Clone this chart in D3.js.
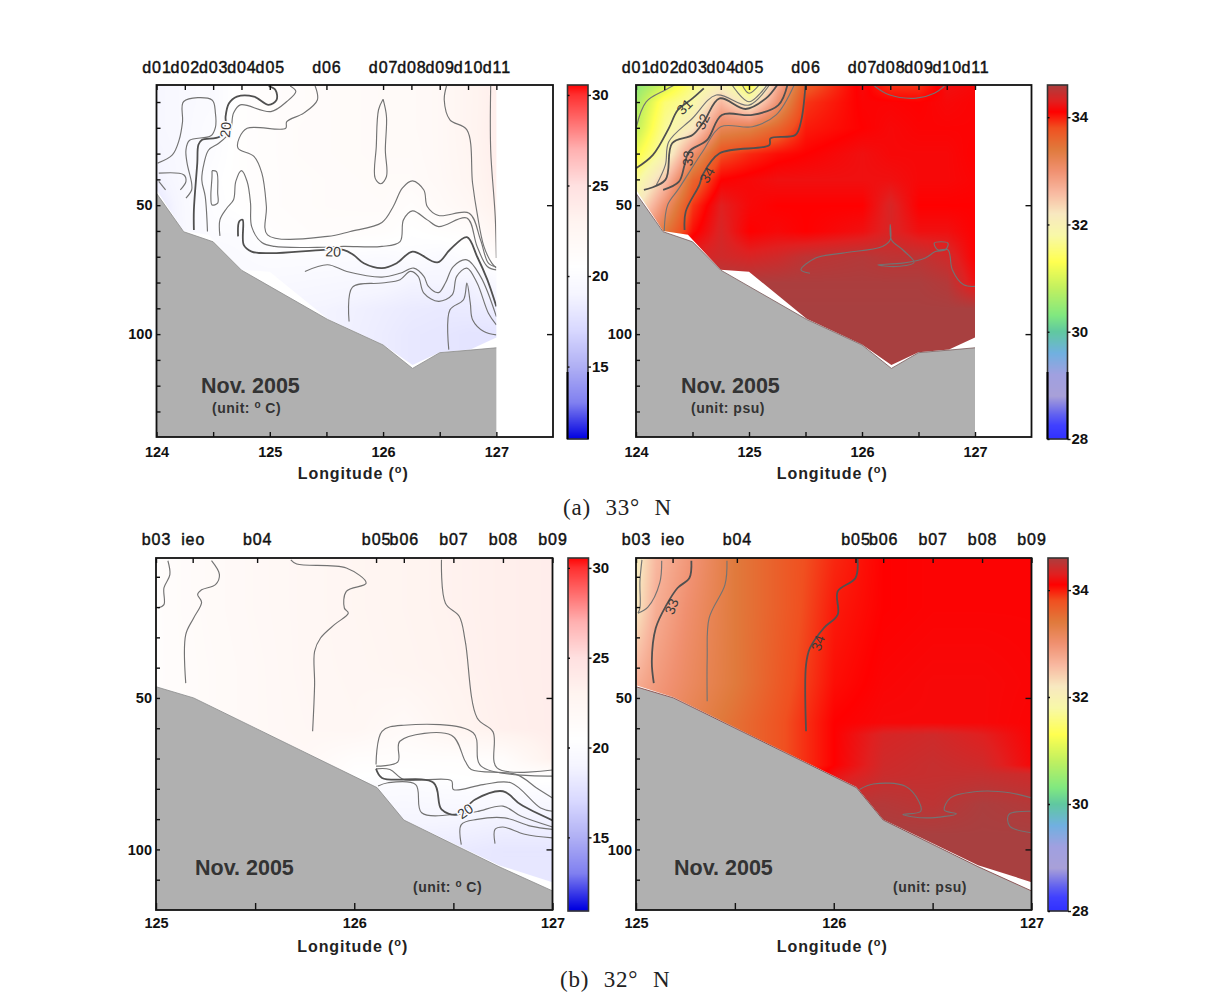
<!DOCTYPE html>
<html><head><meta charset="utf-8">
<script src="https://cdn.jsdelivr.net/npm/d3@7/dist/d3.min.js"></script>
<style>html,body{margin:0;background:#fff}svg{display:block}</style></head>
<body><svg id="c" width="1216" height="1007"></svg>
<script>
// ---------- stations ----------
const stationsD=["d01","d02","d03","d04","d05","d06","d07","d08","d09","d10","d11"];
const stationLonD=[124,124.25,124.5,124.75,125,125.5,126,126.25,126.5,126.75,127];
const stationsB=["b03","ieo","b04","b05","b06","b07","b08","b09"];
const stationLonB=[125,125.185,125.51,126.11,126.25,126.5,126.75,127];
// ---------- bottom topography (lon, depth) ----------
const seabedA=[[124,45.4],[124.24,60.3],[124.5,64.2],[124.75,75.2],[125.51,94.3],[126,104.2],[126.26,113.3],[126.5,107.2],[126.77,106.2],[127,105.3]];
const fieldEdgeA=[[124,44],[124.24,60],[124.46,61.5],[124.75,75],[125,75.8],[125.51,94],[126,104],[126.26,112],[126.5,107],[126.77,106],[127,101.3]];
const seabedB=[[125,46.3],[125.19,50],[126.115,79.6],[126.25,90.3],[126.73,105.7],[127,113.7]];
const fieldEdgeB=[[125,45.8],[125.19,49.8],[126.115,79.4],[126.25,90.1],[126.73,105.2],[127,110.8]];
// ---------- gridded fields ----------
const lonGridA=[124,124.25,124.5,124.75,125,125.25,125.5,126,126.25,126.5,126.75,127];
const depthGridA=[3,10,20,30,40,50,60,70,80,90,100,115];
const tempA=[
[19.3,19.6,19.8,20.8,21,21.2,21.4,21.6,21.7,22,22.8,23.5],
[19.3,19.6,19.8,20.8,21,21.2,21.4,21.6,21.7,22,22.8,23.5],
[19.3,19.6,20,20.8,21,21.3,21.4,21.6,21.7,22,22.8,23.6],
[19.1,19.6,20.1,20.8,21,21.3,21.4,21.6,21.6,22,22.7,23.6],
[18.8,19.6,20.3,20.8,21,21.2,21.3,21.5,21.5,21.9,22.6,23.5],
[18,19.6,20.2,20.7,21,21.2,21.3,21.4,21,21.6,22.2,23.3],
[18,19.5,20,20,20.8,21,21.2,21,20.5,20.8,21,22.6],
[18,19,19.5,19.8,20,20,20,19.8,20.1,19.7,20.2,21],
[18.6,19.2,19.4,19.6,19.6,19.5,19.4,19.2,18.9,19,18.8,19.6],
[19,19,19,19,19,19,18.9,18.5,18.3,18.2,18.3,18.5],
[19,19,19,19,19,19,18.9,18.4,18.1,18,17.8,17.8],
[19,19,19,19,19,19,18.9,18.4,18.1,18,17.8,17.8]];
const saltA=[
[30.4,30.9,31.6,32,31.2,32.7,33.7,34.15,33.9,33.9,34.2,34.15],
[30.6,31.5,31.8,32.6,32,33,33.9,34.12,34.12,34.1,34.15,34.12],
[30.8,31.7,32.2,33.2,33.3,33.6,34,34.1,34.15,34.12,34.12,34.12],
[31.2,31.9,33,33.8,33.95,34.05,34.1,34.2,34.15,34.15,34.15,34.1],
[31.7,32.5,33.6,34.1,34.15,34.2,34.2,34.2,34.2,34.15,34.15,34.12],
[32.1,33,33.9,34.3,34.15,34.1,34.1,34.1,34.35,34.1,34.1,34.1],
[32.6,33.4,34.05,34.35,34.1,34.15,34.1,34.2,34.35,34.2,34.2,34.1],
[34,34.2,34.35,34.4,34.35,34.4,34.5,34.55,34.5,34.5,34.4,34.1],
[34.6,34.6,34.6,34.6,34.6,34.6,34.6,34.6,34.6,34.6,34.55,34.2],
[34.62,34.62,34.62,34.62,34.62,34.62,34.62,34.62,34.62,34.62,34.62,34.62],
[34.62,34.62,34.62,34.62,34.62,34.62,34.62,34.62,34.62,34.62,34.62,34.62],
[34.62,34.62,34.62,34.62,34.62,34.62,34.62,34.62,34.62,34.62,34.62,34.62]];
const lonGridBT=[125,125.25,125.5,125.75,126,126.25,126.5,126.75,127];
const depthGridBT=[3,20,40,60,70,75,80,90,100,120];
const tempB=[
[21,21.6,22,22.3,22.6,22.9,23.2,23.5,23.7],
[21,21.6,22,22.3,22.6,22.9,23.2,23.5,23.7],
[21,21.5,21.9,22.3,22.5,22.8,23.1,23.5,23.7],
[21,21.5,21.9,22.2,22.4,21.6,22.8,23.4,23.7],
[21,21.4,21.7,22,21,20.9,20.9,21.1,23.4],
[21,21.4,21.6,21.8,20.6,20.4,20.6,20.9,20.9],
[21,21.4,21.6,21.6,20,19.8,20,20.2,20],
[19.3,19.3,19.3,19.3,19,19.1,19,18.8,18.8],
[18.4,18.4,18.4,18.4,18.4,18.4,18.3,18,18],
[18,18,18,18,18,18,18,18,18]];
const lonGridBS=[125,125.1,125.25,125.5,125.75,126,126.25,126.5,126.75,127];
const depthGridBS=[3,20,45,58,62,72,75,85,95,120];
const saltB=[
[32.1,32.6,32.9,33.4,33.7,33.95,34.1,34.12,34.12,34.12],
[32.2,32.7,33,33.4,33.7,34,34.1,34.12,34.12,34.12],
[32.7,32.9,33.1,33.4,33.75,34.05,34.13,34.15,34.15,34.13],
[33,33,33.2,33.5,33.8,34.1,34.15,34.15,34.15,34.12],
[33,33,33.2,33.5,33.8,34.1,34.35,34.4,34.3,34.12],
[33,33,33.2,33.5,33.8,34.1,34.4,34.45,34.4,34.15],
[33,33,33.2,33.5,33.8,34.2,34.42,34.45,34.45,34.4],
[34.62,34.62,34.62,34.62,34.62,34.55,34.55,34.5,34.6,34.55],
[34.62,34.62,34.62,34.62,34.62,34.62,34.62,34.62,34.62,34.62],
[34.62,34.62,34.62,34.62,34.62,34.62,34.62,34.62,34.62,34.62]];
// ---------- colour bars ----------
const tempStops=[[11,"#0000e0"],[12,"#4040e8"],[13,"#8080f0"],[15,"#b0b0f4"],[17,"#d8d8ff"],[19,"#f5f5ff"],[20.5,"#ffffff"],[23,"#fff4f0"],[25,"#ffe0e0"],[27,"#ffb0b0"],[30,"#ff3030"],[30.6,"#ff0000"]];
const saltStops=[[28,"#3030ff"],[28.25,"#4040ff"],[28.45,"#6060f0"],[28.8,"#a8a0d8"],[29.2,"#a0a0e0"],[29.6,"#70b0e0"],[30,"#60c8a0"],[30.3,"#80e880"],[30.8,"#c0f060"],[31.3,"#ffff50"],[31.8,"#f8f8a8"],[32.2,"#f8e8c0"],[32.6,"#f8b8a0"],[33,"#f09070"],[33.4,"#e07a3c"],[33.8,"#f05020"],[34.1,"#ff0000"],[34.3,"#e02020"],[34.62,"#a84040"]];
const tempTicks=[15,20,25,30], saltTicks=[28,30,32,34];
// ---------- contours (lon, depth) ----------
const contoursTA=[
[[124.01,33.7],[124.14,30.5],[124.2,24.7],[124.23,17.6],[124.24,9.8],[124.49,9.2],[124.52,14.3],[124.52,19.8],[124.48,23.1],[124.29,24.9],[124.26,28.6],[124.27,33.7],[124.31,41.5],[124.31,44.1],[124.26,47.3]],
[[124.02,37.6],[124.24,38.2],[124.26,40.8],[124.21,44.1]],
[[124.02,40.8],[124.08,44.1]],
[[124.45,60.2],[124.43,46.6],[124.4,40.2],[124.42,33.7],[124.46,28.6],[124.55,26],[124.65,21.4],[124.68,14.3],[124.74,11.1],[125.01,13.7],[125.15,9.8],[125.23,5.9],[125.18,3.8]],
[[124.49,36.6],[124.53,37],[124.54,45.3],[124.54,49.2],[124.49,49.9],[124.48,46.6],[124.49,38.9],[124.49,36.6]],
[[124.56,61.9],[124.56,55.7],[124.62,51.2],[124.68,47.9],[124.7,40.8],[124.75,36.6],[124.8,40.8],[124.83,49.2],[124.84,58.3],[124.93,64.5],[125.04,66],[125.48,66.3],[125.65,66],[125.99,66],[126.15,64.1],[126.18,55.7],[126.26,52.2],[126.39,55.7],[126.49,58.3],[126.74,55],[126.83,66],[126.92,73.8],[127,75.1]],
[[125.4,3.8],[125.42,9.2],[125.3,14.3],[125.15,17.6],[125.14,20.2],[124.8,20.2],[124.73,24],[124.72,27.9],[124.86,31.1],[124.93,37.6],[124.97,50.5],[124.98,61.5],[125.51,62.1],[125.71,60.2],[125.99,56.7],[126.09,50.5],[126.17,43.4],[126.26,40.6],[126.36,44.1],[126.39,50.5],[126.49,54],[126.76,53.1],[126.86,63.4],[126.93,72.5],[127,74]],
[[126.56,3.8],[126.54,9.2],[126.59,16.9],[126.74,20.8],[126.79,41.5],[126.83,53.1],[126.89,66],[126.96,72.5],[127,74.4]],
[[126.95,3.8],[126.95,28.6],[126.99,54.4],[127,70.5]],
[[126,8.9],[126.03,15.6],[126.02,28.6],[126.03,38.9],[125.98,41.7],[125.93,39.5],[125.94,27.3],[125.96,13],[126,8.9]],
[[125.31,75.7],[125.51,73.1],[125.68,75.7],[125.99,77.9],[126.15,76.4],[126.27,74.4],[126.36,77.6],[126.4,81.5],[126.49,83.9],[126.55,80.2],[126.62,73.8],[126.74,71.2],[126.86,77.6],[127,93.2]],
[[125.7,95.1],[125.73,81.8],[125.99,80.2],[126.15,78.9],[126.24,75.7],[126.31,77.6],[126.36,84.1],[126.49,87.3],[126.61,84.8],[126.65,77.6],[126.74,74.4],[126.83,80.2],[126.93,91.9],[127,96.4]],
[[126.58,106],[126.59,90.6],[126.71,86.7],[126.74,80.2],[126.77,88],[126.79,94.4],[126.89,99],[127,100.3]]];
const thickTA=[
[[124.33,59.6],[124.33,51.8],[124.36,33.7],[124.37,26.6],[124.4,24.7],[124.56,23.4],[124.61,18.2],[124.61,15.6],[124.64,10.5],[124.71,7.9],[124.86,7.9],[124.99,11.1],[125.06,9.2],[125.05,5.3],[124.99,3.8]],
[[124.72,62.1],[124.73,56.3],[124.76,55.7],[124.77,65.4],[124.84,68],[125.01,68.6],[125.48,67.3],[125.65,67.3],[125.74,69.3],[125.83,72.5],[125.99,74.4],[126.12,72.5],[126.26,68],[126.48,72.2],[126.59,67.3],[126.74,62.4],[126.83,69.9],[126.92,78.9],[127,89.3]]];
const contoursSA=[
[[124.94,3.4],[125,6.6],[125.09,3.4]],
[[124.85,3.4],[125,9.9],[125.16,3.4]],
[[124,20.2],[124.09,9.9],[124.26,5.3],[124.34,3.4]],
[[124.18,42.2],[124.26,34.4],[124.29,25.4],[124.5,16.3],[124.71,7.3],[125,11.2],[125.18,3.4]],
[[124.25,60.2],[124.28,49.9],[124.38,43.5],[124.59,29.2],[124.75,19.6],[125.03,19.6],[125.24,15],[125.4,3.4]],
[[126.11,3.8],[126.24,7.2],[126.48,8.5],[126.64,6.6],[126.73,3.8]],
[[125.54,76.4],[125.46,75.1],[125.59,70.5],[125.83,68.6],[126.18,66],[126.25,63.4],[126.25,57.6],[126.26,63.4],[126.36,67.3],[126.46,72.2],[126.3,73.8],[126.14,73.1],[126.36,72.5],[126.56,70.5],[126.65,68],[126.74,67.3],[126.76,64.7],[126.64,64.7],[126.67,67.3],[126.76,67.3],[126.8,75.1],[126.9,80.9],[127,81.5]]];
const thickSA=[
[[124,35.7],[124.15,30.5],[124.29,20.2],[124.37,13.1],[124.5,8.6],[124.6,4.7]],
[[124.07,44.1],[124.26,40.2],[124.32,26],[124.5,22.8],[124.6,17.6],[124.74,8.6],[124.97,12.7],[125.15,8.6],[125.25,3.4]],
[[124.24,44.1],[124.38,40.9],[124.43,34.4],[124.47,29.2],[124.63,24.7],[124.76,15],[125.03,15],[125.26,11.2],[125.34,3.4]],
[[124.43,59.6],[124.44,52.5],[124.56,42.2],[124.59,38.3],[124.74,29.9],[125.18,26.7],[125.19,24.1],[125.41,22.8],[125.46,17.6],[125.5,3.4]]];
const contoursTB=[
[[125.06,4.7],[125.07,9.3],[125.04,13.7],[125.04,19.2],[125.01,20.3]],
[[125.28,4.7],[125.32,9.3],[125.3,12.6],[125.23,14.3],[125.21,15.9],[125.23,18.4],[125.19,23.6],[125.15,29.1],[125.15,45.1]],
[[125.68,4.4],[125.71,5.8],[125.96,7.1],[126.06,12.1],[125.96,14.8],[125.95,20.3],[125.97,22],[125.9,25.8],[125.83,30.2],[125.8,34.6],[125.8,45.6],[125.79,61]],
[[126.44,4.4],[126.46,18.7],[126.53,23.1],[126.56,31.3],[126.62,56.6],[126.7,61.2],[126.72,73.1],[127,73.8]],
[[126.11,72],[126.14,61],[126.25,59],[126.6,61.5],[126.64,72.5],[127,75.8]],
[[126.11,72.5],[126.22,71.1],[126.23,64.3],[126.49,62.3],[126.56,70.9],[126.59,73.6],[126.82,75.3],[126.92,79.7],[127,83]],
[[126.11,73.4],[126.18,73.6],[126.25,76.9],[126.49,77.3],[126.5,80.2],[126.65,78.6],[126.79,78],[126.94,86.3],[127,87.4]],
[[126.12,79.1],[126.17,78],[126.31,78.6],[126.34,87.9],[126.54,88.2],[126.62,87.5],[126.75,85.7],[126.84,89],[127,92.6]],
[[126.54,98.4],[126.54,91.8],[126.62,90.1],[126.76,89.6],[126.89,92.3],[127,93.4]],
[[126.71,98.1],[126.71,93.4],[126.75,92.6],[126.86,95],[127,96.2]]];
const thickTB=[
[[126.11,73.4],[126.14,76.4],[126.4,78],[126.44,86.8],[126.52,88.5],[126.61,83.5],[126.75,80.8],[126.84,85.2],[127,90.4]]];
const contoursSB=[
[[125.03,4.4],[125.02,11.5],[125.02,20.3],[125.01,22]],
[[125.13,4.7],[125.12,12],[125.06,20],[125.01,22]],
[[125.46,4.7],[125.45,12.6],[125.37,23.6],[125.36,36.8],[125.36,51.1]],
[[126.13,80.2],[126.2,78.4],[126.36,79.1],[126.43,84.1],[126.44,87.4],[126.35,88.5],[126.47,89.6],[126.62,88.2],[126.56,87.1],[126.59,83],[126.74,80.8],[126.89,81.3],[127,83]],
[[127,87.4],[126.885,88.5],[126.89,92.3],[127,94.5]]];
const thickSB=[
[[125.28,4.7],[125.27,10.4],[125.21,13.7],[125.155,19.2],[125.1,26.9],[125.08,37.9],[125.09,45.1]],
[[126.12,3.8],[126.11,10.4],[126.02,14.8],[126.02,22.5],[125.95,26.9],[125.88,33.5],[125.86,39],[125.86,61]]];
// ---------- labels on contours ----------
const labelsTA=[["20",124.61,20.8,-85],["20",125.56,68,2]];
const labelsSA=[["31",124.43,11.8,-45],["32",124.59,17.6,-65],["33",124.46,31.8,-85],["34",124.63,38.3,-60]];
const labelsTB=[["20",126.56,87.4,-35]];
const labelsSB=[["33",125.18,19.8,-70],["34",125.92,31.9,-70]];

const svg=d3.select("#c");
const sans="'Liberation Sans',Arial,sans-serif";
const tempColor=d3.scaleLinear().domain(tempStops.map(d=>d[0])).range(tempStops.map(d=>d[1])).clamp(true);
const saltColor=d3.scaleLinear().domain(saltStops.map(d=>d[0])).range(saltStops.map(d=>d[1])).clamp(true);
const defs=svg.append("defs");
let uid=0;

function sample(lons,deps,vals,lon,dep){
  const i=Math.max(0,Math.min(lons.length-2,d3.bisectRight(lons,lon)-1));
  const j=Math.max(0,Math.min(deps.length-2,d3.bisectRight(deps,dep)-1));
  const u=Math.max(0,Math.min(1,(lon-lons[i])/(lons[i+1]-lons[i])));
  const v=Math.max(0,Math.min(1,(dep-deps[j])/(deps[j+1]-deps[j])));
  return (vals[j][i]*(1-u)+vals[j][i+1]*u)*(1-v)+(vals[j+1][i]*(1-u)+vals[j+1][i+1]*u)*v;
}

function panel(o){
  const g=svg.append("g");
  const x=d3.scaleLinear().domain(o.lonDomain).range(o.xr);
  const y=d3.scaleLinear().domain(o.depDomain).range(o.yr);
  const W=o.xr[1]-o.xr[0],H=o.yr[1]-o.yr[0];
  // field raster
  const cv=document.createElement("canvas");cv.width=Math.ceil(W);cv.height=Math.ceil(H);
  const ctx=cv.getContext("2d");
  for(let py=0;py<cv.height;py++)for(let px=0;px<cv.width;px++){
    ctx.fillStyle=o.color(sample(o.lons,o.deps,o.vals,x.invert(o.xr[0]+px),y.invert(o.yr[0]+py)));
    ctx.fillRect(px,py,1,1);
  }
  const id="clip"+(uid++);
  const top=o.depDomain[0];
  const fieldPoly=[[o.edge[0][0],top],...o.edge,[o.edge[o.edge.length-1][0],top]];
  const toPts=a=>a.map(d=>[x(d[0]),y(d[1])].join(",")).join(" ");
  defs.append("clipPath").attr("id",id).append("polygon").attr("points",toPts(fieldPoly));
  g.append("image").attr("href",cv.toDataURL()).attr("x",o.xr[0]).attr("y",o.yr[0]).attr("width",cv.width).attr("height",cv.height).attr("clip-path",`url(#${id})`);
  // contours
  const line=d3.line().x(d=>x(d[0])).y(d=>y(d[1])).curve(d3.curveCatmullRom.alpha(0.5));
  const cg=g.append("g").attr("clip-path",`url(#${id})`).attr("fill","none");
  cg.selectAll(".t").data(o.thin).join("path").attr("d",line).attr("stroke","#737373").attr("stroke-width",1.15);
  cg.selectAll(".k").data(o.thick).join("path").attr("d",line).attr("stroke","#505050").attr("stroke-width",1.8);
  // seabed
  const bottom=o.depDomain[1],last=o.bed[o.bed.length-1][0];
  g.append("polygon").attr("points",toPts([...o.bed,[last,bottom],[o.bed[0][0],bottom]])).attr("fill","#b0b0b0");
  g.append("path").attr("d",d3.line().x(d=>x(d[0])).y(d=>y(d[1]))(o.bed)).attr("fill","none").attr("stroke",o.bedStroke).attr("stroke-width",.8);
  // contour labels
  g.selectAll(".cl").data(o.labels).join("text").text(d=>d[0])
    .attr("transform",d=>`translate(${x(d[1])},${y(d[2])}) rotate(${d[3]})`)
    .attr("text-anchor","middle").attr("dy","0.35em").attr("font-family",sans).attr("font-size",14).attr("fill","#3a3a3a")
    .attr("stroke",o.halo||"none").attr("stroke-width",o.halo?3:0).attr("paint-order","stroke");
  // axes
  const style=a=>{a.select(".domain").remove();a.selectAll("line").attr("stroke","#111").attr("stroke-width",1.4);
    a.selectAll("text").attr("font-family",sans).attr("fill","#111")};
  const ax=g.append("g").attr("transform",`translate(0,${o.yr[1]})`)
    .call(d3.axisBottom(x).tickValues(o.bottomTicks).tickSize(-o.bottomTick).tickPadding(o.bottomPad).tickFormat(d=>Number.isInteger(d)?d:""));
  style(ax);ax.selectAll("text").attr("font-size",14.5).attr("font-weight","bold");
  const at=g.append("g").attr("transform",`translate(0,${o.yr[0]})`)
    .call(d3.axisTop(x).tickValues(o.stLon).tickSize(-5).tickPadding(o.topPad).tickFormat((d,i)=>o.st[i]));
  style(at);at.selectAll("text").attr("font-size",16).attr("letter-spacing",.9).attr("stroke","#111").attr("stroke-width",.45);
  const al=g.append("g").attr("transform",`translate(${o.xr[0]},0)`)
    .call(d3.axisLeft(y).tickValues(d3.range(10,o.depDomain[1],10)).tickSize(-4).tickPadding(4).tickFormat(d=>d%50===0?d:""));
  style(al);al.selectAll("text").attr("font-size",14.5).attr("font-weight","bold");
  const ar=g.append("g").attr("transform",`translate(${o.xr[1]},0)`)
    .call(d3.axisRight(y).tickValues([50,100]).tickSize(-6).tickFormat(""));
  style(ar);
  g.append("rect").attr("x",o.xr[0]).attr("y",o.yr[0]).attr("width",W).attr("height",H).attr("fill","none").attr("stroke","#111").attr("stroke-width",1.8);
  // axis title
  const cx=(o.xr[0]+o.xr[1])/2-1.5;
  const t=g.append("text").attr("x",cx).attr("y",o.yr[1]+42).attr("text-anchor","middle").attr("font-family",sans).attr("font-weight","bold").attr("font-size",16).attr("letter-spacing",.9).attr("fill","#222");
  t.append("tspan").text("Longitude (");
  t.append("tspan").text("o").attr("font-size",11).attr("dy",-6);
  t.append("tspan").text(")").attr("dy",6);
  // annotations
  g.append("text").text("Nov. 2005").attr("x",o.nov[0]).attr("y",o.nov[1]).attr("font-family",sans).attr("font-weight","bold").attr("font-size",21.5).attr("fill","#333");
  const u=g.append("text").attr("x",o.unit[0]).attr("y",o.unit[1]).attr("font-family",sans).attr("font-weight","bold").attr("font-size",14).attr("letter-spacing",.5).attr("fill","#333");
  if(o.unitText==="psu"){u.text("(unit: psu)")}else{
    u.append("tspan").text("(unit: ");
    u.append("tspan").text("o").attr("font-size",10).attr("dy",-5);
    u.append("tspan").text(" C)").attr("dy",5);
  }
  // colour bar
  const c=d3.scaleLinear().domain(o.barDomain).range(o.barY);
  const bw=o.barX[1]-o.barX[0];
  g.append("g").selectAll("rect").data(d3.range(o.barY[1],o.barY[0],1)).join("rect")
    .attr("x",o.barX[0]).attr("y",d=>d).attr("width",bw).attr("height",1.2).attr("fill",d=>o.color(c.invert(d+.5)));
  g.append("rect").attr("x",o.barX[0]).attr("y",o.barY[1]).attr("width",bw).attr("height",o.barY[0]-o.barY[1]).attr("fill","none").attr("stroke","#333").attr("stroke-width",1.6);
  if(o.barDark){ [o.barX[0],o.barX[1]].forEach(v=>g.append("line").attr("x1",v).attr("x2",v).attr("y1",o.barDark).attr("y2",o.barY[0]).attr("stroke","#000").attr("stroke-width",2)); }
  const bt=g.append("g").attr("transform",`translate(${o.barX[1]},0)`)
    .call(d3.axisRight(c).tickValues(o.barTicks).tickSize(3).tickPadding(1).tickFormat(d3.format("d")));
  style(bt);bt.selectAll("text").attr("font-size",15).attr("font-weight","bold");
  const bl=g.append("g").attr("transform",`translate(${o.barX[0]},0)`)
    .call(d3.axisRight(c).tickValues(o.barTicks).tickSize(2).tickFormat(""));
  style(bl);
}

const aY=[85,437],bY=[558,910];
const aBase={lonDomain:[124,127.5],depDomain:[3.4,139.9],yr:aY,bed:seabedA,edge:fieldEdgeA,st:stationsD,stLon:stationLonD,bottomTicks:[124,124.5,125,125.5,126,126.5,127],bottomTick:5,bottomPad:10,topPad:12};
const bBase={lonDomain:[125,127],depDomain:[3.8,120],yr:bY,bed:seabedB,edge:fieldEdgeB,st:stationsB,stLon:stationLonB,bottomTicks:[125,125.5,126,126.5,127],bottomTick:7,bottomPad:8,topPad:13};

panel({...aBase,xr:[156.5,553],lons:lonGridA,deps:depthGridA,vals:tempA,color:tempColor,bedStroke:"#8a8a8a",halo:"#fdfbfb",
  thin:contoursTA,thick:thickTA,labels:labelsTA,nov:[201,393],unit:[212,413],unitText:"C",
  barX:[567.5,588],barY:[439,85],barDomain:[11,30.55],barTicks:tempTicks,barDark:372});
panel({...aBase,xr:[636,1031.5],lons:lonGridA,deps:depthGridA,vals:saltA,color:saltColor,bedStroke:"#7a5a5a",
  thin:contoursSA,thick:thickSA,labels:labelsSA,nov:[681,393],unit:[691,413],unitText:"psu",
  barX:[1047.5,1067.5],barY:[439,85],barDomain:[28,34.6],barTicks:saltTicks,barDark:372});
panel({...bBase,xr:[156,552.5],lons:lonGridBT,deps:depthGridBT,vals:tempB,color:tempColor,bedStroke:"#8a8a8a",halo:"#fbfaff",
  thin:contoursTB,thick:thickTB,labels:labelsTB,nov:[195,875],unit:[413,892],unitText:"C",
  barX:[568,588.5],barY:[911,558],barDomain:[10.9,30.55],barTicks:tempTicks});
panel({...bBase,xr:[636,1031.5],lons:lonGridBS,deps:depthGridBS,vals:saltB,color:saltColor,bedStroke:"#7a3a3a",
  thin:contoursSB,thick:thickSB,labels:labelsSB,nov:[674,875],unit:[893,892],unitText:"psu",
  barX:[1048,1068],barY:[911,558],barDomain:[28,34.6],barTicks:saltTicks});

// captions
[["(a) 33° N",563,515],["(b) 32° N",560,987]].forEach(d=>{
  svg.append("text").text(d[0]).attr("x",d[1]).attr("y",d[2]).attr("font-family","'Liberation Serif',serif").attr("font-size",23).attr("letter-spacing",.8).attr("word-spacing",8).attr("fill","#222").style("white-space","pre");
});
</script></body></html>
